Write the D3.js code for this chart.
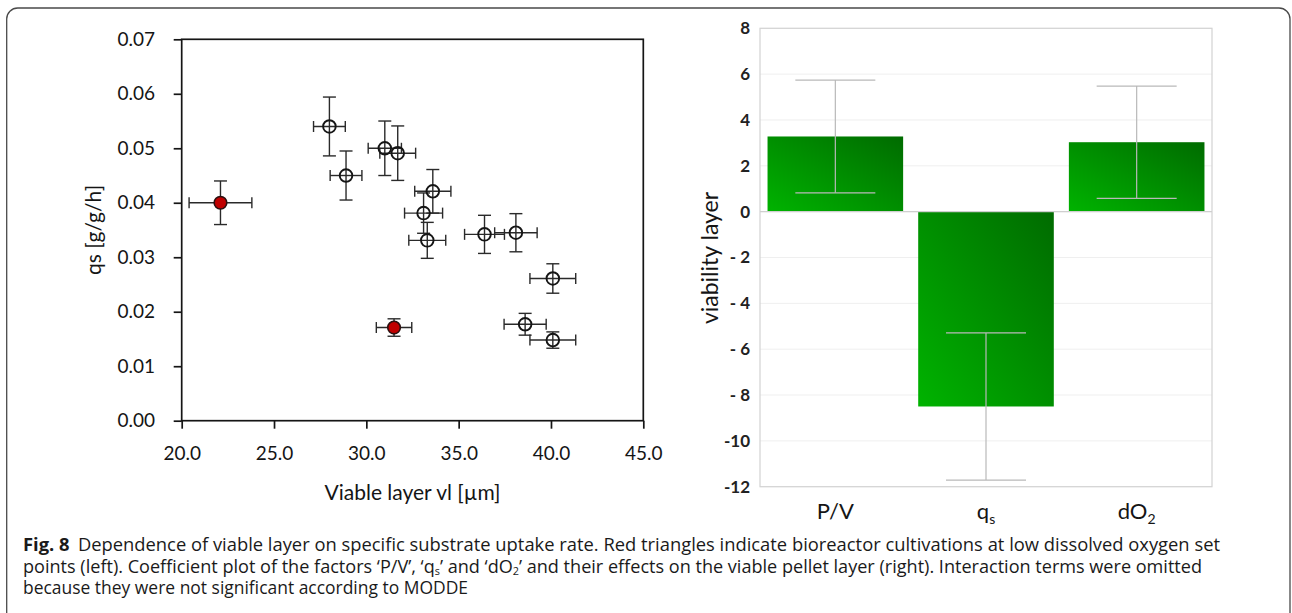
<!DOCTYPE html>
<html>
<head>
<meta charset="utf-8">
<script src="https://cdn.jsdelivr.net/npm/d3@7"></script>
<style>
  body { margin: 0; background: #fff; }
  svg { display: block; }
</style>
</head>
<body>
<svg id="fig" width="1292" height="613"></svg>
<script>
// ---- Left panel: viable layer vs specific substrate uptake rate ----
const vlOpen    = [28.0, 28.9, 31.0, 31.7, 33.6, 33.1, 33.3, 36.4, 38.1, 40.1, 38.6, 40.1];
const qsOpen    = [0.0540, 0.0450, 0.0500, 0.0491, 0.0421, 0.0381, 0.0331, 0.0342, 0.0345, 0.0261, 0.0177, 0.0148];
const vlErrOpen = [0.86, 0.86, 0.90, 0.97, 0.98, 1.03, 1.00, 1.08, 1.15, 1.24, 1.14, 1.24];
const qsErrOpen = [0.0054, 0.0045, 0.0050, 0.0050, 0.0040, 0.0037, 0.0033, 0.0035, 0.0035, 0.0027, 0.0020, 0.0015];

// low dissolved oxygen cultivations
const vlLowDO    = [22.1, 31.5];
const qsLowDO    = [0.0400, 0.0171];
const vlErrLowDO = [1.70, 0.96];
const qsErrLowDO = [0.0040, 0.0016];

const qsTicks = [0, 0.01, 0.02, 0.03, 0.04, 0.05, 0.06, 0.07];
const vlTicks = [20, 25, 30, 35, 40, 45];

// ---- Right panel: coefficient plot ----
const factors      = ["P/V", "qs", "dO2"];
const factorBase   = ["P/V", "q", "dO"];
const factorSub    = ["", "s", "2"];
const coefficients = [3.28, -8.50, 3.03];
const confidence   = [2.46, 3.21, 2.45];
const barTicks      = [-12, -10, -8, -6, -4, -2, 0, 2, 4, 6, 8];
const barTickLabels = ["-12", "-10", "- 8", "- 6", "- 4", "- 2", "0", "2", "4", "6", "8"];

const svg = d3.select("#fig");
const FONT = "Lato, 'Open Sans', sans-serif";

// outer panel frame
svg.append("rect")
  .attr("x", 6.7).attr("y", 8).attr("width", 1283.3).attr("height", 625)
  .attr("rx", 11).attr("fill", "none").attr("stroke", "#4a4a4a").attr("stroke-width", 1.3);

// ================= scatter =================
const x = d3.scaleLinear().domain([20, 45]).range([181.7, 643.3]);
const y = d3.scaleLinear().domain([0, 0.07]).range([420.7, 39.3]);
const ink = "#151515";
const left = svg.append("g");

left.append("rect")
  .attr("x", x(20)).attr("y", y(0.07))
  .attr("width", x(45) - x(20)).attr("height", y(0) - y(0.07))
  .attr("fill", "none").attr("stroke", ink).attr("stroke-width", 1.7);

const gy = left.append("g")
  .attr("transform", `translate(${x(20)},0)`)
  .call(d3.axisLeft(y).tickValues(qsTicks).tickFormat(d3.format(".2f")).tickSize(8).tickPadding(18.7));
gy.select(".domain").remove();
gy.attr("font-family", FONT).attr("font-size", 19);
gy.selectAll("line").attr("stroke", ink).attr("stroke-width", 1.7);
gy.selectAll("text").attr("fill", ink);

const gx = left.append("g")
  .attr("transform", `translate(0,${y(0)})`)
  .call(d3.axisBottom(x).tickValues(vlTicks).tickFormat(d3.format(".1f")).tickSize(8).tickPadding(18));
gx.select(".domain").remove();
gx.attr("font-family", FONT).attr("font-size", 19);
gx.selectAll("line").attr("stroke", ink).attr("stroke-width", 1.7);
gx.selectAll("text").attr("fill", ink);

left.append("text")
  .attr("transform", "translate(101,230) rotate(-90)")
  .attr("text-anchor", "middle").attr("font-family", FONT).attr("font-size", 21).attr("fill", ink)
  .text("qs [g/g/h]");
left.append("text")
  .attr("x", 412.5).attr("y", 500)
  .attr("text-anchor", "middle").attr("font-family", FONT).attr("font-size", 21).attr("fill", ink)
  .text("Viable layer vl [µm]");

function points(vl, qs, vlErr, qsErr) {
  return vl.map((v, i) => ({ vl: v, qs: qs[i], ex: vlErr[i], ey: qsErr[i] }));
}
const openPts = points(vlOpen, qsOpen, vlErrOpen, qsErrOpen);
const lowPts  = points(vlLowDO, qsLowDO, vlErrLowDO, qsErrLowDO);

function errorBars(g, data) {
  const eb = g.selectAll(null).data(data).enter().append("g")
    .attr("stroke", "#2a2a2a").attr("stroke-width", 1.4).attr("fill", "none");
  eb.append("line").attr("x1", d => x(d.vl - d.ex)).attr("x2", d => x(d.vl + d.ex))
    .attr("y1", d => y(d.qs)).attr("y2", d => y(d.qs));
  eb.append("line").attr("x1", d => x(d.vl - d.ex)).attr("x2", d => x(d.vl - d.ex))
    .attr("y1", d => y(d.qs) - 5.5).attr("y2", d => y(d.qs) + 5.5);
  eb.append("line").attr("x1", d => x(d.vl + d.ex)).attr("x2", d => x(d.vl + d.ex))
    .attr("y1", d => y(d.qs) - 5.5).attr("y2", d => y(d.qs) + 5.5);
  eb.append("line").attr("x1", d => x(d.vl)).attr("x2", d => x(d.vl))
    .attr("y1", d => y(d.qs - d.ey)).attr("y2", d => y(d.qs + d.ey));
  eb.append("line").attr("x1", d => x(d.vl) - 6.5).attr("x2", d => x(d.vl) + 6.5)
    .attr("y1", d => y(d.qs + d.ey)).attr("y2", d => y(d.qs + d.ey));
  eb.append("line").attr("x1", d => x(d.vl) - 6.5).attr("x2", d => x(d.vl) + 6.5)
    .attr("y1", d => y(d.qs - d.ey)).attr("y2", d => y(d.qs - d.ey));
}
errorBars(left, openPts);
errorBars(left, lowPts);

left.selectAll(null).data(openPts).enter().append("circle")
  .attr("cx", d => x(d.vl)).attr("cy", d => y(d.qs)).attr("r", 6.3)
  .attr("fill", "none").attr("stroke", ink).attr("stroke-width", 1.9);
left.selectAll(null).data(lowPts).enter().append("circle")
  .attr("cx", d => x(d.vl)).attr("cy", d => y(d.qs)).attr("r", 6.3)
  .attr("fill", "#c00000").attr("stroke", "#2a1010").attr("stroke-width", 1.6);

// ================= coefficient plot =================
const xb = d3.scaleBand().domain(factors).range([760, 1212]).paddingInner(0.1).paddingOuter(0.05);
const yb = d3.scaleLinear().domain([-12, 8]).range([486.7, 28.3]);
const right = svg.append("g");

const defs = svg.append("defs");
const grad = defs.append("linearGradient").attr("id", "barGreen")
  .attr("x1", 0).attr("y1", 1).attr("x2", 1).attr("y2", 0);
grad.append("stop").attr("offset", "0%").attr("stop-color", "#00b300");
grad.append("stop").attr("offset", "100%").attr("stop-color", "#006b00");

right.selectAll(null).data(barTicks).enter().append("line")
  .attr("x1", 760).attr("x2", 1212)
  .attr("y1", d => yb(d)).attr("y2", d => yb(d))
  .attr("stroke", "#efefef").attr("stroke-width", 1);

right.append("rect")
  .attr("x", 760).attr("y", yb(8)).attr("width", 452).attr("height", yb(-12) - yb(8))
  .attr("fill", "none").attr("stroke", "#d3d3d3").attr("stroke-width", 1.2);

const bars = factors.map((f, i) => ({ f, v: coefficients[i], ci: confidence[i], base: factorBase[i], sub: factorSub[i] }));

right.selectAll(null).data(bars).enter().append("rect")
  .attr("x", d => xb(d.f)).attr("width", xb.bandwidth())
  .attr("y", d => yb(Math.max(0, d.v)))
  .attr("height", d => Math.abs(yb(d.v) - yb(0)))
  .attr("fill", "url(#barGreen)");

right.append("line")
  .attr("x1", 760).attr("x2", 1212).attr("y1", yb(0)).attr("y2", yb(0))
  .attr("stroke", "#cfcfcf").attr("stroke-width", 1.2);

const capHalf = xb.bandwidth() * 0.295;
const ebr = right.selectAll(null).data(bars).enter().append("g")
  .attr("stroke", "#b9b9b9").attr("stroke-width", 1.2);
ebr.append("line")
  .attr("x1", d => xb(d.f) + xb.bandwidth() / 2).attr("x2", d => xb(d.f) + xb.bandwidth() / 2)
  .attr("y1", d => yb(d.v + d.ci)).attr("y2", d => yb(d.v - d.ci));
ebr.append("line")
  .attr("x1", d => xb(d.f) + xb.bandwidth() / 2 - capHalf).attr("x2", d => xb(d.f) + xb.bandwidth() / 2 + capHalf)
  .attr("y1", d => yb(d.v + d.ci)).attr("y2", d => yb(d.v + d.ci));
ebr.append("line")
  .attr("x1", d => xb(d.f) + xb.bandwidth() / 2 - capHalf).attr("x2", d => xb(d.f) + xb.bandwidth() / 2 + capHalf)
  .attr("y1", d => yb(d.v - d.ci)).attr("y2", d => yb(d.v - d.ci));

const gyb = right.append("g")
  .attr("transform", "translate(760,0)")
  .call(d3.axisLeft(yb).tickValues(barTicks).tickFormat((d, i) => barTickLabels[i]).tickSize(0).tickPadding(10));
gyb.select(".domain").remove();
gyb.attr("font-family", FONT).attr("font-size", 17).attr("font-weight", "bold");
gyb.selectAll("text").attr("fill", "#222");

const xl = right.selectAll(null).data(bars).enter().append("text")
  .attr("x", d => xb(d.f) + xb.bandwidth() / 2).attr("y", 519)
  .attr("text-anchor", "middle").attr("font-family", FONT).attr("font-size", 22).attr("fill", "#151515");
xl.append("tspan").text(d => d.base);
xl.filter(d => d.sub).append("tspan").attr("dy", 5).attr("font-size", 14).text(d => d.sub);

right.append("text")
  .attr("transform", "translate(718,258) rotate(-90)")
  .attr("text-anchor", "middle").attr("font-family", FONT).attr("font-size", 23).attr("fill", "#151515")
  .text("viability layer");

// ================= caption =================
const CAP = "'Open Sans', 'Noto Sans', sans-serif";
const cap = svg.append("g").attr("font-family", CAP).attr("font-size", 17.5).attr("fill", "#1a1a1a");

const l1 = cap.append("text").attr("x", 23).attr("y", 551);
l1.append("tspan").attr("font-weight", "bold").text("Fig. 8");
l1.append("tspan").attr("dx", 8).text("Dependence of viable layer on specific substrate uptake rate. Red triangles indicate bioreactor cultivations at low dissolved oxygen set");

const l2 = cap.append("text").attr("x", 23).attr("y", 572.5);
l2.append("tspan").text("points (left). Coefficient plot of the factors \u2018P/V\u2019, \u2018q");
l2.append("tspan").attr("dy", 2).attr("font-size", 10.5).text("s");
l2.append("tspan").attr("dy", -2).text("\u2019 and \u2018dO");
l2.append("tspan").attr("dy", 2).attr("font-size", 10.5).text("2");
l2.append("tspan").attr("dy", -2).text("\u2019 and their effects on the viable pellet layer (right). Interaction terms were omitted");

const l3 = cap.append("text").attr("x", 23).attr("y", 594)
  .text("because they were not significant according to MODDE");

// condensed caption: each line is fitted to its right edge
const lineEnds = [1220, 1202, 468];
[l1, l2, l3].forEach((t, i) =>
  t.attr("textLength", lineEnds[i] - 23).attr("lengthAdjust", "spacingAndGlyphs"));
</script>
</body>
</html>
